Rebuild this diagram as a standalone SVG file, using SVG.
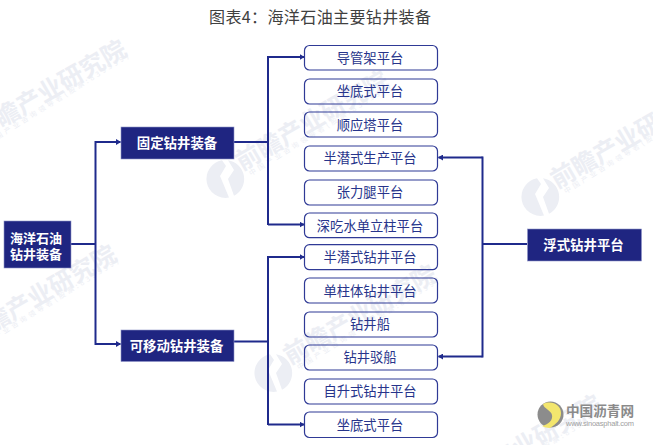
<svg xmlns="http://www.w3.org/2000/svg" width="653" height="445" viewBox="0 0 653 445">
<style>
text{font-family:"Noto Sans CJK SC","Liberation Sans",sans-serif;text-anchor:middle}
.t{font-size:16px;fill:#404040}
.b{fill:#1f2581;stroke:#8f94c8;stroke-width:.6}
.bt{font-size:13.4px;fill:#fff;font-weight:700}
.n{fill:none;stroke:#2f3a96;stroke-width:1.2}
.nt{font-size:13.3px;fill:#27348b}
.c{fill:none;stroke:#1f2a8c;stroke-width:2}
.wm{font-size:24.5px;font-weight:700;fill:#eceef4;text-anchor:start}
.ws{font-size:7px;fill:#eceef4;text-anchor:start}
.wl{fill:#eceef4}
</style>
<defs>
<marker id="a" markerWidth="5" markerHeight="6" refX="4.500" refY="3" orient="auto" markerUnits="userSpaceOnUse"><path d="M0 0L5 3L0 6Z" fill="#1f2a8c"/></marker>
<g id="w">
<path class="wl" d="M-3 -18.800A19 19 0 0 0 4 18.600L-5 -3L1 -13Z"/>
<path class="wl" d="M3 -18.800A19 19 0 0 1 9 16.800L3 0L9 -9Z"/>
<text class="wm" transform="rotate(-30 17 -8)" x="17" y="-8">前瞻产业研究院</text>
<text class="ws" transform="rotate(-32 26 -3)" x="26" y="-3" textLength="165">中国产业咨询领导者(股票:839599)</text>
</g>
</defs>
<rect width="653" height="445" fill="#fff"/>
<g id="watermarks">
<use href="#w" x="-37" y="148"/>
<use href="#w" x="225" y="179"/>
<use href="#w" x="540" y="197"/>
<use href="#w" x="-47" y="353"/>
<use href="#w" x="273" y="373"/>
<use href="#w" x="438" y="503"/>
</g>
<text class="t" x="320" y="23" textLength="222">图表4：海洋石油主要钻井装备</text>
<g id="connectors">
<path class="c" d="M71 244H95.500"/>
<path class="c" d="M95.500 142H120.500" marker-end="url(#a)"/>
<path class="c" d="M95.500 141V345"/>
<path class="c" d="M95.500 344H120.500" marker-end="url(#a)"/>
<path class="c" d="M234 142H268"/>
<path class="c" d="M268 57H304" marker-end="url(#a)"/>
<path class="c" d="M268 56V225"/>
<path class="c" d="M268 224.500H304" marker-end="url(#a)"/>
<path class="c" d="M234 341.500H268"/>
<path class="c" d="M268 257H304" marker-end="url(#a)"/>
<path class="c" d="M268 256V425"/>
<path class="c" d="M268 424.500H304" marker-end="url(#a)"/>
<path class="c" d="M527 244H482.500"/>
<path class="c" d="M482.500 157.500H438.500" marker-end="url(#a)"/>
<path class="c" d="M482.500 156.500V357.500"/>
<path class="c" d="M482.500 356.500H438.500" marker-end="url(#a)"/>
</g>
<g id="n-root"><rect class="b" x="4" y="221" width="67" height="47"/><text class="bt" x="36" y="242.500" style="font-size:13px">海洋石油</text><text class="bt" x="36" y="258.500" style="font-size:13px">钻井装备</text></g>
<g id="n-fixed"><rect class="b" x="121" y="127" width="113" height="32"/><text class="bt" x="177" y="148">固定钻井装备</text></g>
<g id="n-mobile"><rect class="b" x="121" y="330" width="113" height="31.500"/><text class="bt" x="176.500" y="351">可移动钻井装备</text></g>
<g id="n-float"><rect class="b" x="527.500" y="229" width="114" height="32"/><text class="bt" x="583.500" y="250">浮式钻井平台</text></g>
<g id="n1"><rect class="n" x="304.500" y="45.500" width="133" height="24.500" rx="5"/><text class="nt" x="370" y="63">导管架平台</text></g>
<g id="n2"><rect class="n" x="304.500" y="79" width="133" height="25" rx="5"/><text class="nt" x="370" y="96">坐底式平台</text></g>
<g id="n3"><rect class="n" x="304.500" y="112" width="133" height="25" rx="5"/><text class="nt" x="370" y="130">顺应塔平台</text></g>
<g id="n4"><rect class="n" x="304.500" y="146" width="133" height="25" rx="5"/><text class="nt" x="370" y="163">半潜式生产平台</text></g>
<g id="n5"><rect class="n" x="304.500" y="180" width="133" height="25" rx="5"/><text class="nt" x="370" y="197">张力腿平台</text></g>
<g id="n6"><rect class="n" x="304.500" y="213" width="133" height="24.700" rx="5"/><text class="nt" x="370" y="231">深吃水单立柱平台</text></g>
<g id="n7"><rect class="n" x="304.500" y="244.700" width="133" height="25" rx="5"/><text class="nt" x="370" y="262">半潜式钻井平台</text></g>
<g id="n8"><rect class="n" x="304.500" y="278" width="133" height="25" rx="5"/><text class="nt" x="370" y="296">单柱体钻井平台</text></g>
<g id="n9"><rect class="n" x="304.500" y="312" width="133" height="25" rx="5"/><text class="nt" x="370" y="329">钻井船</text></g>
<g id="n10"><rect class="n" x="304.500" y="345" width="133" height="25" rx="5"/><text class="nt" x="370" y="362">钻井驳船</text></g>
<g id="n11"><rect class="n" x="304.500" y="379" width="133" height="25" rx="5"/><text class="nt" x="370" y="396">自升式钻井平台</text></g>
<g id="n12"><rect class="n" x="304.500" y="412" width="133" height="25.500" rx="5"/><text class="nt" x="370" y="430">坐底式平台</text></g>
<g id="logo">
<circle cx="550.500" cy="414.500" r="13" fill="#8c8c8c"/>
<path d="M542 426C549 424 553 420 552 415C551 410 544 409 543 404C552 400 561 405 561 413C561 420 556 424 550 428C547 428 544 427 542 426Z" fill="#f3e66e"/>
<text x="600" y="415.500" font-size="13.600" font-weight="700" fill="#8a8a8a">中国沥青网</text>
<text x="600" y="426" font-size="7.500" fill="#a0a0a0" textLength="68" style="font-family:'Liberation Sans',sans-serif">www.sinoasphalt.com</text>
</g>
</svg>
